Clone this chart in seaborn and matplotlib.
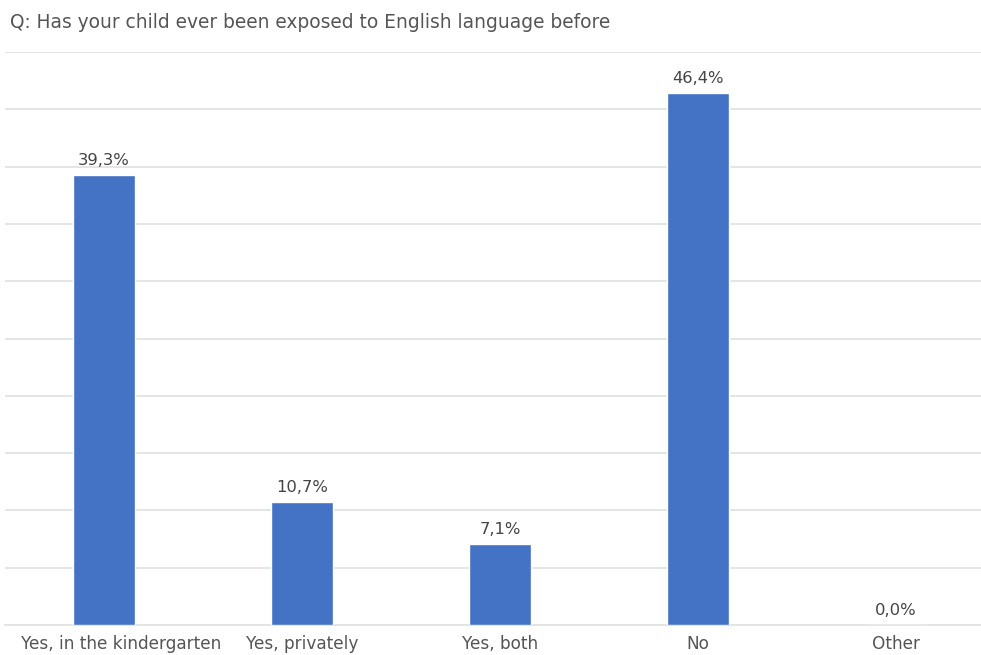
import matplotlib
matplotlib.use("Agg")
import matplotlib.pyplot as plt
import matplotlib.transforms as mtransforms
import seaborn as sns
import pandas as pd

categories = ["Yes, in the kindergarten", "Yes, privately", "Yes, both", "No", "Other"]
shares = [39.3, 10.7, 7.1, 46.4, 0.0]
title = "Q: Has your child ever been exposed to English language before"

sns.set_theme(style="white")
plt.rcParams["font.family"] = ["DejaVu Sans"]

df = pd.DataFrame({"answer": categories, "share": shares})

fig = plt.figure(figsize=(9.81, 6.55), dpi=100)
ax = fig.add_axes([5 / 981, 1 - 625 / 655, 1 - 5 / 981, (625 - 52) / 655])

sns.barplot(data=df, x="answer", y="share", color="#4472C4", width=0.31,
            saturation=1, ax=ax, zorder=3)

ax.set_ylim(0, 50)
ax.set_xlim(-0.5, 4.43)
ax.set_yticks(range(0, 51, 5))
ax.yaxis.grid(True, color="#e3e3e3", linewidth=1.3, zorder=0)
ax.set_yticklabels([])
ax.tick_params(axis="y", length=0)
ax.tick_params(axis="x", length=0, labelsize=12.2, labelcolor="#555555", pad=7)
for s in ["top", "right", "left"]:
    ax.spines[s].set_visible(False)
ax.spines["bottom"].set_color("#e3e3e3")
ax.spines["bottom"].set_linewidth(1.3)
ax.set_xlabel("")
ax.set_ylabel("")

# keep the first label clear of the left edge
first = ax.get_xticklabels()[0]
first.set_transform(first.get_transform() +
                    mtransforms.ScaledTranslation(17 / 100, 0, fig.dpi_scale_trans))

labels = [f"{v:.1f}".replace(".", ",") + "%" for v in shares]
ax.bar_label(ax.containers[0], labels=labels, padding=5, fontsize=11.8, color="#444444")

fig.text(10 / 981, 1 - 22 / 655, title, fontsize=13.4, color="#555555",
         ha="left", va="center")

fig.savefig("out.png", dpi=100)
